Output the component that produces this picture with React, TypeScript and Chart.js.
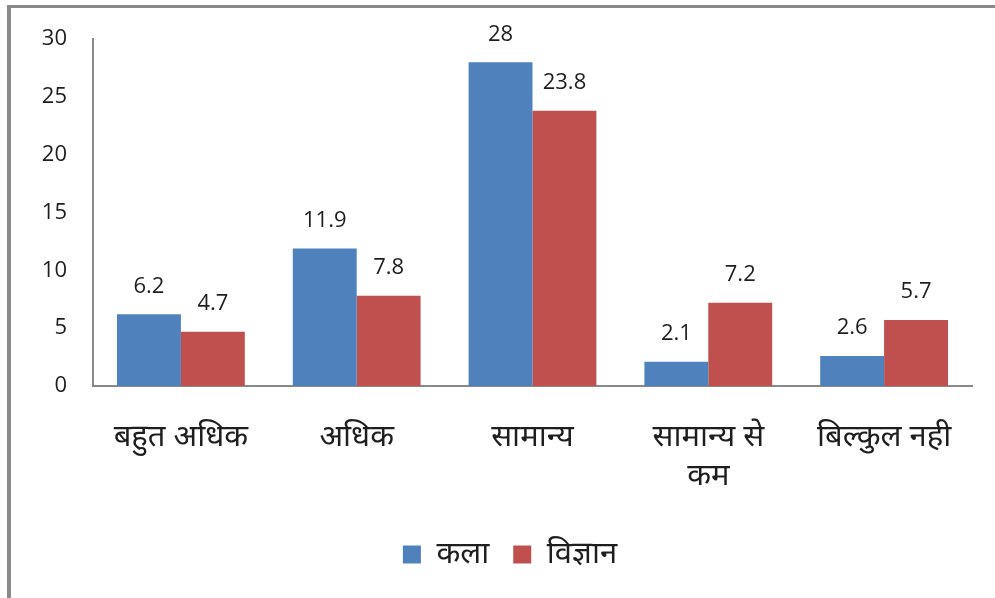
import React, { useEffect, useRef } from "react";
import { Chart, registerables } from "chart.js";

Chart.register(...registerables);

const categories: (string | string[])[] = [
  "बहुत अधिक",
  "अधिक",
  "सामान्य",
  ["सामान्य से", "कम"],
  "बिल्कुल नही",
];
const seriesNames = ["कला", "विज्ञान"];
const kalaValues = [6.2, 11.9, 28, 2.1, 2.6];
const vigyanValues = [4.7, 7.8, 23.8, 7.2, 5.7];
const yTicks = [0, 5, 10, 15, 20, 25, 30];

const BLUE = "#4F81BD";
const RED = "#C0504D";
const TEXT = "#1e1e1e";
const AXIS = "#898989";
const NUM_FONT = "'Open Sans', 'Liberation Sans', sans-serif";
const DEV_FONT = "'Noto Sans', 'Open Sans', sans-serif";

const valueLabels = {
  id: "valueLabels",
  afterDatasetsDraw(chart: any) {
    const ctx = chart.ctx;
    ctx.save();
    ctx.font = `22px ${NUM_FONT}`;
    ctx.fillStyle = TEXT;
    ctx.textAlign = "center";
    ctx.textBaseline = "middle";
    chart.data.datasets.forEach((ds: any, i: number) => {
      const meta = chart.getDatasetMeta(i);
      meta.data.forEach((bar: any, j: number) => {
        ctx.fillText(String(ds.data[j]), bar.x, bar.y - 28);
      });
    });
    ctx.restore();
  },
};

const legendShift = {
  id: "legendShift",
  afterLayout(chart: any) {
    if (chart.legend) {
      chart.legend.left += 24;
      chart.legend.right += 24;
    }
  },
};

export default function App() {
  const ref = useRef<HTMLCanvasElement>(null);
  useEffect(() => {
    if (!ref.current) return;
    const chart = new Chart(ref.current, {
      type: "bar",
      data: {
        labels: categories,
        datasets: [
          { label: seriesNames[0], data: kalaValues, backgroundColor: BLUE },
          { label: seriesNames[1], data: vigyanValues, backgroundColor: RED },
        ],
      },
      options: {
        responsive: false,
        animation: false,
        layout: { padding: { left: 0, right: 23, top: 37, bottom: 18 } },
        datasets: {
          bar: { categoryPercentage: 0.727, barPercentage: 1.0 },
        },
        plugins: {
          tooltip: { enabled: false },
          legend: {
            position: "bottom",
            labels: {
              boxWidth: 18,
              boxHeight: 18,
              padding: 24,
              color: TEXT,
              font: { size: 31, family: DEV_FONT },
            },
          },
        },
        scales: {
          x: {
            grid: { display: false, drawTicks: false },
            border: { display: true, color: AXIS, width: 2 },
            ticks: {
              color: TEXT,
              padding: 32,
              maxRotation: 0,
              autoSkip: false,
              font: { size: 31, family: DEV_FONT, lineHeight: 1.25 },
            },
            afterFit: (s: any) => {
              s.height = 129;
            },
          },
          y: {
            min: 0,
            max: 30,
            grid: { display: false, drawTicks: false },
            border: { display: true, color: AXIS, width: 2 },
            afterBuildTicks: (s: any) => {
              s.ticks = yTicks.map((v) => ({ value: v }));
            },
            ticks: {
              color: TEXT,
              padding: 26,
              font: { size: 22, family: NUM_FONT },
            },
            afterFit: (s: any) => {
              s.width = 93;
            },
          },
        },
      },
      plugins: [valueLabels, legendShift],
    });
    return () => chart.destroy();
  }, []);

  return (
    <div
      style={{
        position: "absolute",
        left: 0,
        top: 0,
        width: 995,
        height: 598,
        background: "#fff",
        overflow: "hidden",
      }}
    >
      <div
        style={{
          position: "absolute",
          left: 7,
          top: 5,
          width: 990,
          height: 600,
          borderTop: "3px solid #8a8a8a",
          borderLeft: "4px solid #8a8a8a",
          boxSizing: "border-box",
        }}
      />
      <canvas
        ref={ref}
        width={995}
        height={598}
        style={{ position: "absolute", left: 0, top: 0 }}
      />
    </div>
  );
}
